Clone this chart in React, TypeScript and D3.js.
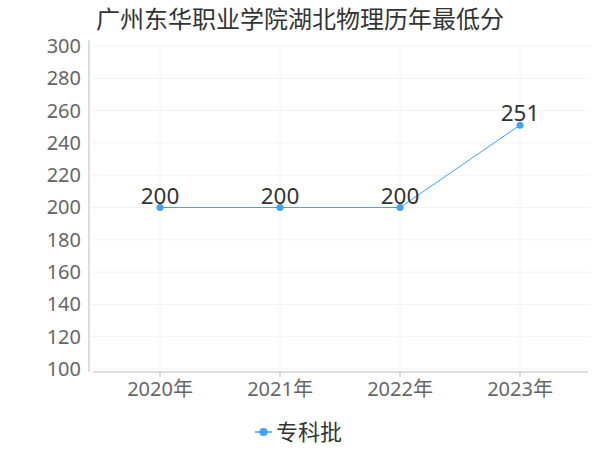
import { useRef, useEffect } from 'react';
import * as d3 from 'd3';

const title = '广州东华职业学院湖北物理历年最低分';
const years = ['2020年', '2021年', '2022年', '2023年'];
const scores = [200, 200, 200, 251];
const yTicks = [100, 120, 140, 160, 180, 200, 220, 240, 260, 280, 300];
const seriesName = '专科批';

const App = () => {
    const svgRef = useRef<SVGSVGElement | null>(null);

    useEffect(() => {
        const svgElement = svgRef.current;
        if (!svgElement) return;

        const width = 600;
        const font = '"Noto Sans", "Noto Sans CJK SC", sans-serif';
        const cjk = '"Noto Sans CJK SC", sans-serif';
        const lineColor = '#3fa0ff';

        const svg = d3.select(svgElement);
        svg.selectAll('*').remove();

        const x = d3.scaleBand<string>()
            .domain(years)
            .range([100, 580]);

        const y = d3.scaleLinear()
            .domain([100, 300])
            .range([369, 46]);

        // title
        svg.append('text')
            .attr('x', width / 2)
            .attr('y', 28)
            .attr('text-anchor', 'middle')
            .style('font-family', cjk)
            .style('font-size', '24px')
            .style('fill', '#333')
            .text(title);

        // horizontal grid
        svg.append('g')
            .selectAll('line')
            .data(yTicks)
            .join('line')
            .attr('x1', 91)
            .attr('x2', 590)
            .attr('y1', d => y(d))
            .attr('y2', d => y(d))
            .attr('stroke', '#f2f2f2')
            .attr('stroke-width', 1);

        // vertical grid at category centers
        svg.append('g')
            .selectAll('line')
            .data(years)
            .join('line')
            .attr('x1', d => x(d)! + x.bandwidth() / 2)
            .attr('x2', d => x(d)! + x.bandwidth() / 2)
            .attr('y1', y(300))
            .attr('y2', y(100))
            .attr('stroke', '#f4f4f4')
            .attr('stroke-width', 1);

        // y axis
        const yAxis = svg.append('g')
            .attr('transform', 'translate(89, 0)')
            .call(d3.axisLeft(y).tickValues(yTicks).tickSize(0).tickPadding(8));
        yAxis.select('.domain')
            .attr('stroke', '#bbb')
            .attr('d', `M0,${y(300) - 6}V${y(100) + 3}`);
        yAxis.selectAll('text')
            .attr('fill', '#666')
            .style('font-family', font)
            .style('font-size', '20px');

        // x axis
        const xAxis = svg.append('g')
            .attr('transform', 'translate(0, 372)')
            .call(d3.axisBottom(x).tickSize(5).tickPadding(5));
        xAxis.select('.domain')
            .attr('stroke', '#bbb')
            .attr('d', 'M93,0H588');
        xAxis.selectAll('.tick line')
            .attr('stroke', '#bbb');
        xAxis.selectAll('text')
            .attr('fill', '#666')
            .style('font-family', font)
            .style('font-size', '20px');

        const data = years.map((yr, i) => ({ yr, v: scores[i] }));
        const cx = (d: { yr: string }) => x(d.yr)! + x.bandwidth() / 2;

        const line = d3.line<{ yr: string; v: number }>()
            .x(d => cx(d))
            .y(d => y(d.v));

        svg.append('path')
            .datum(data)
            .attr('fill', 'none')
            .attr('stroke', lineColor)
            .attr('stroke-width', 1)
            .attr('d', line);

        svg.append('g')
            .selectAll('circle')
            .data(data)
            .join('circle')
            .attr('cx', d => cx(d))
            .attr('cy', d => y(d.v))
            .attr('r', 3.5)
            .attr('fill', lineColor);

        svg.append('g')
            .selectAll('text')
            .data(data)
            .join('text')
            .attr('x', d => cx(d))
            .attr('y', d => y(d.v) - 4)
            .attr('text-anchor', 'middle')
            .style('font-family', font)
            .style('font-size', '22.5px')
            .style('fill', '#333')
            .text(d => d.v);

        // legend
        const lg = svg.append('g').attr('transform', 'translate(255, 432)');
        lg.append('line')
            .attr('x1', 0).attr('x2', 17)
            .attr('y1', 0).attr('y2', 0)
            .attr('stroke', lineColor)
            .attr('stroke-width', 1.5);
        lg.append('circle')
            .attr('cx', 8.5).attr('cy', 0).attr('r', 4)
            .attr('fill', lineColor);
        lg.append('text')
            .attr('x', 21)
            .attr('y', 0)
            .attr('dy', '0.35em')
            .style('font-family', cjk)
            .style('font-size', '22px')
            .style('fill', '#333')
            .text(seriesName);
    }, []);

    return (
        <svg ref={svgRef} width={600} height={450}
            style={{ position: 'absolute', left: 0, top: 0, background: '#fff' }} />
    );
};

export default App;
